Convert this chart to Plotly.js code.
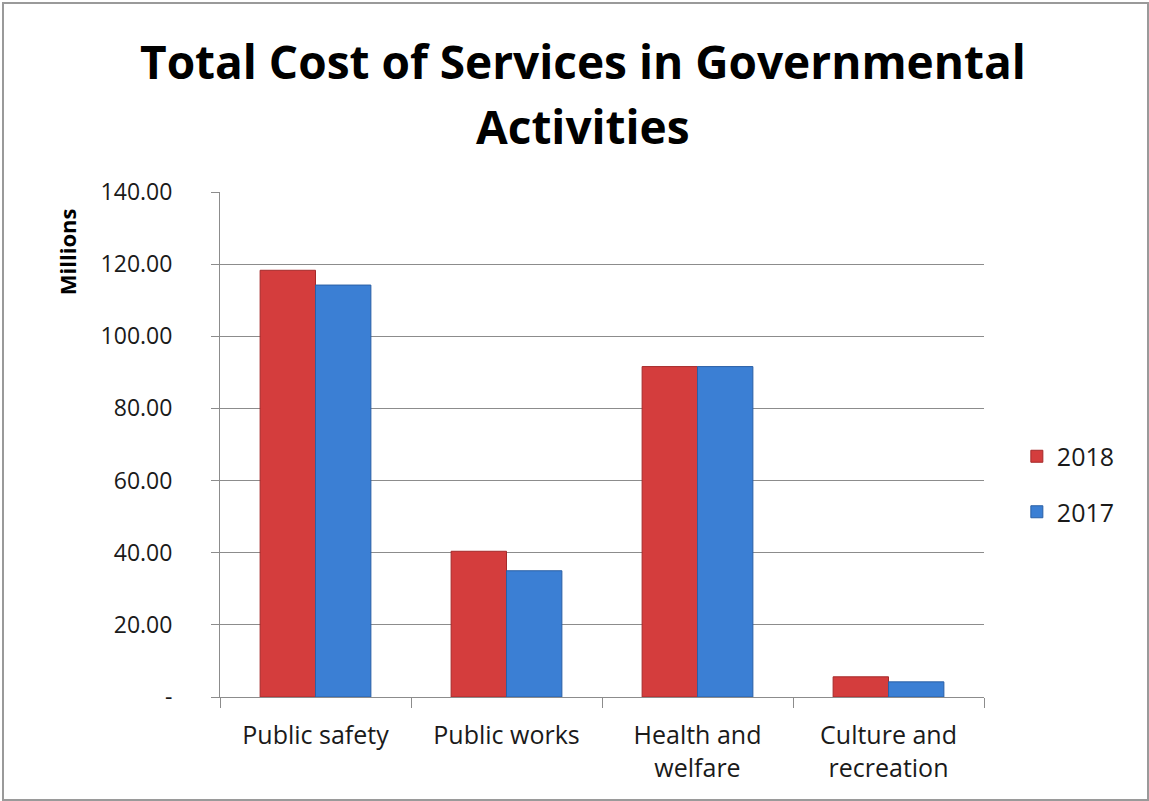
<!DOCTYPE html>
<html>
<head>
<meta charset="utf-8">
<script src="https://cdn.plot.ly/plotly-3.0.1.min.js"></script>
<style>
html,body{margin:0;padding:0;background:#fff;}
#chart{position:absolute;left:2px;top:2px;width:1143px;height:795px;border:2px solid #9a9a9a;box-sizing:content-box;}
</style>
</head>
<body>
<div id="chart"></div>
<script>
var categories = ["Public safety", "Public works", "Health and<br>welfare", "Culture and<br>recreation"];
var values2018 = [118.3, 40.4, 91.6, 5.6];
var values2017 = [114.2, 35.0, 91.6, 4.2];
var yTickVals = [0, 20, 40, 60, 80, 100, 120, 140];
var yTickText = ["-", "20.00", "40.00", "60.00", "80.00", "100.00", "120.00", "140.00"];
var titleLines = ["Total Cost of Services in Governmental", "Activities"];

var FONT = "Open Sans, Noto Sans, sans-serif";

var traces = [
  {type: "bar", name: "2018", legendgroup: "g2018", x: categories, y: values2018,
   marker: {color: "#d43d3d", line: {color: "#a52a2a", width: 1}}},
  {type: "bar", name: "2017", legendgroup: "g2017", x: categories, y: values2017,
   marker: {color: "#3b7fd4", line: {color: "#2a5fa5", width: 1}}}
];

var plotH = 795 - 188 - 102;
function paperY(pageY) { return (795 - 102 - (pageY - 2)) / plotH; }

var layout = {
  width: 1143, height: 795,
  margin: {l: 216, r: 163, t: 188, b: 102, pad: 0},
  paper_bgcolor: "#fff", plot_bgcolor: "#fff",
  barmode: "group", bargap: 0.42, bargroupgap: 0,
  xaxis: {type: "category", tickson: "boundaries", ticks: "outside", ticklen: 10,
          tickcolor: "#8c8c8c", showline: true, linecolor: "#8c8c8c", linewidth: 1,
          showgrid: false, ticklabelstandoff: 16,
          tickfont: {family: FONT, size: 25, color: "#1a1a1a"}},
  yaxis: {range: [0, 140], tickvals: yTickVals, ticktext: yTickText, ticks: "outside", ticklen: 8,
          tickcolor: "#8c8c8c", showline: true, linecolor: "#8c8c8c", linewidth: 1,
          showgrid: true, gridcolor: "#8c8c8c", gridwidth: 1, zeroline: false,
          ticklabelstandoff: 34,
          tickfont: {family: FONT, size: 23, color: "#1a1a1a"}},
  legend: {x: 1.043, xanchor: "left", y: paperY(482), yanchor: "middle", traceorder: "grouped",
           tracegroupgap: 20,
           font: {family: FONT, size: 25, color: "#1a1a1a"},
           itemwidth: 30, bgcolor: "rgba(0,0,0,0)"},
  annotations: [
    {text: "<b>" + titleLines[0] + "</b>", xref: "paper", yref: "paper", x: 0.475, y: paperY(59),
     xanchor: "center", yanchor: "middle", showarrow: false,
     font: {family: FONT, size: 46, color: "#000"}},
    {text: "<b>" + titleLines[1] + "</b>", xref: "paper", yref: "paper", x: 0.475, y: paperY(124),
     xanchor: "center", yanchor: "middle", showarrow: false,
     font: {family: FONT, size: 46, color: "#000"}},
    {text: "<b>Millions</b>", xref: "paper", yref: "paper", x: -0.2, y: paperY(250),
     xanchor: "center", yanchor: "middle", textangle: -90, showarrow: false,
     font: {family: FONT, size: 22, color: "#000"}}
  ]
};

Plotly.newPlot("chart", traces, layout, {displayModeBar: false, staticPlot: true});
</script>
</body>
</html>
